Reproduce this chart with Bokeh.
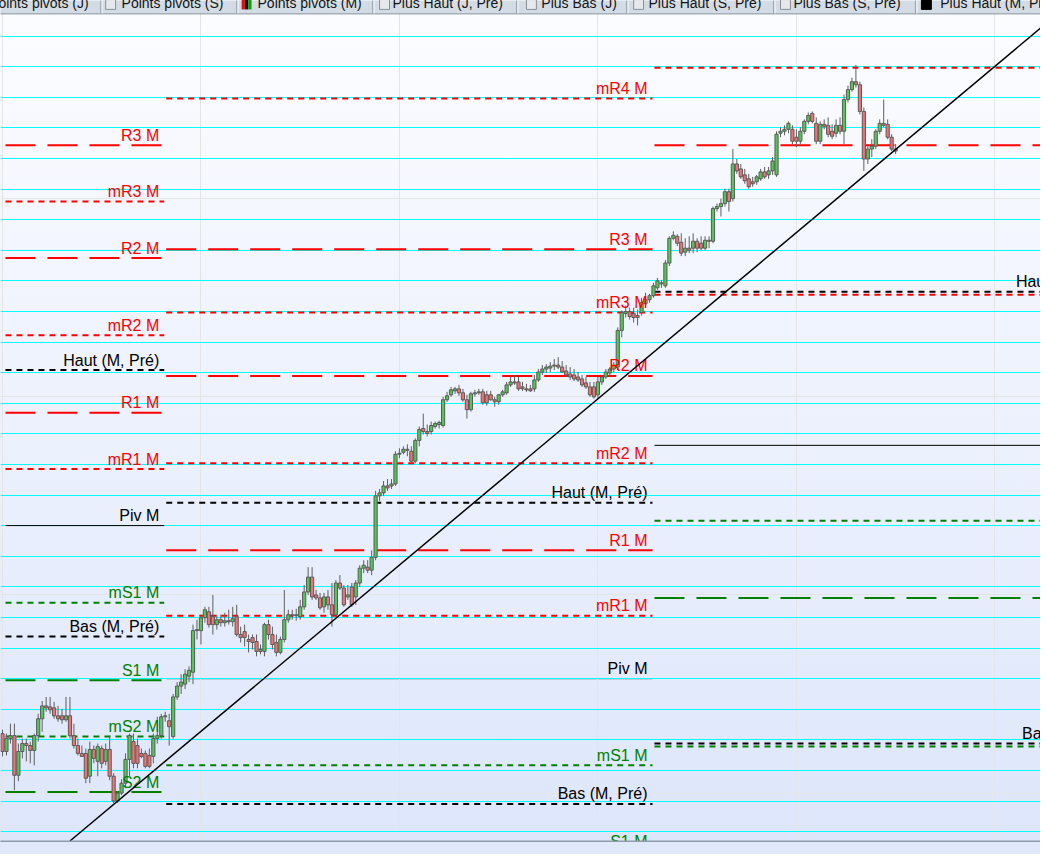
import numpy as np
from bokeh.plotting import figure
from bokeh.models import Range1d, Grid, FixedTicker, ColumnDataSource
from bokeh.core.properties import value
from bokeh.embed import file_html
from bokeh.resources import INLINE

# ---------------- data (price in points, bar index on x) ----------------
opens = [260,242,255,258,218,242,250,248,243,258, 275,288,287,286,278,278,274,278,258,248,
         240,240,217,244,232,245,232,244,217,192, 200,210,234,252,248,240,240,238,237,255,
         258,277,273,257,297,308,310,318,322,364, 364,377,383,378,370,375,372,374,373,378,
         360,363,355,357,353,343,343,370,360,352, 342,355,375,380,379,378,388,403,418,400,
         397,388,398,390,380,412,407,398,408,398, 412,427,428,425,438,500,503,510,510,512,
         542,544,547,545,535,556,568,565,565,570, 572,571,597,602,606,608,604,597,587,603,
         604,605,602,602,597,595,602,604,612,615, 615,610,608,608,608,617,625,628,629,631,
         632,630,626,623,622,620,618,614,610,610, 602,615,620,624,628,630,667,684,686,684,
         682,685,694,698,702,710,714,712,735,760, 762,756,746,750,750,757,755,750,758,757,
         790,792,795,807,800,835,830,824,820,817, 817,820,827,824,828,824,866,868,870,870,
         862,858,868,878,886,876,858,875,874,868, 866,874,868,900,910,918,915,888,840,850,
         853,868,876,875,862,850]
highs = [264,260,270,270,250,255,255,252,260,280, 293,297,297,292,288,285,297,297,270,255,
         248,245,252,248,250,248,250,258,220,202, 214,240,260,260,255,245,243,245,260,277,
         280,282,280,300,312,320,325,328,370,375, 380,388,388,400,380,380,382,385,388,390,
         368,370,360,360,360,350,372,375,368,360, 358,405,385,385,386,395,410,428,428,405,
         402,402,405,412,415,420,410,410,412,415, 430,435,435,445,505,507,515,517,517,545,
         548,550,552,550,558,570,583,572,575,575, 576,600,605,610,610,612,608,602,605,607,
         608,608,606,606,600,603,607,615,620,622, 620,615,613,612,622,628,632,633,635,638,
         640,636,632,630,628,625,622,620,615,615, 620,622,628,630,635,670,687,692,690,690,
         688,700,705,704,715,720,718,738,762,767, 764,765,760,762,765,760,762,762,762,792,
         795,800,810,810,850,840,835,830,825,822, 824,830,832,832,842,868,872,874,878,874,
         870,872,880,887,888,882,878,880,882,875, 880,882,905,914,922,935,918,892,855,860,
         870,880,900,880,865,855]
lows = [237,238,250,203,212,235,232,230,228,252, 262,282,280,275,272,270,272,255,245,238,
        237,210,210,230,217,225,228,213,190,190, 198,205,217,225,225,235,225,225,230,250,
        255,272,248,255,294,300,305,312,310,355, 350,372,367,360,365,368,368,370,368,358,
        352,348,342,345,338,340,338,355,345,338, 340,352,372,375,374,375,385,400,395,395,
        385,382,385,368,378,405,388,395,388,390, 408,422,422,420,435,495,500,505,507,510,
        538,542,540,532,533,550,562,560,562,568, 568,569,595,600,603,601,595,578,585,600,
        602,592,591,596,590,592,600,602,610,612, 606,606,605,605,605,615,622,624,625,627,
        628,624,620,617,616,615,610,608,600,598, 598,612,618,620,625,627,660,680,678,675,
        672,682,690,695,700,708,710,710,732,758, 752,742,742,745,745,746,748,748,750,755,
        787,782,792,787,797,825,820,815,810,812, 814,818,820,820,824,822,862,864,866,855,
        852,855,865,875,876,855,855,870,862,860, 862,865,855,897,908,912,885,828,835,842,
        850,865,872,860,848,845]
closes = [242,255,258,218,242,250,248,243,258,275, 288,286,284,278,275,274,278,258,248,240,
          237,215,244,235,247,230,244,217,192,200, 210,234,258,230,230,237,227,227,255,258,
          277,278,267,297,308,312,320,324,364,365, 377,385,370,370,375,372,374,373,376,360,
          357,357,353,352,343,345,370,360,350,342, 355,375,380,379,380,388,403,418,398,397,
          387,398,390,380,412,407,390,400,390,412, 427,430,425,438,500,503,510,508,512,542,
          543,547,546,535,556,567,565,563,571,573, 574,597,601,607,608,604,597,587,603,604,
          605,594,594,597,595,602,605,612,615,614, 608,608,607,606,617,625,628,630,631,632,
          630,625,622,620,618,617,612,610,602,600, 615,620,625,628,632,667,685,686,681,680,
          680,695,698,702,712,717,715,735,760,763, 755,745,750,748,757,750,750,758,757,790,
          792,795,807,797,835,828,822,818,812,815, 822,827,822,828,838,865,868,870,876,858,
          858,868,878,884,878,858,875,873,865,863, 874,868,900,910,918,915,888,840,850,853,
          868,876,874,862,850,848]

# monthly sections (bar index where each month's pivot set starts / ends)
month_start = [0.75, 41.25, 164.25]
month_end = [40.75, 163.75, 280.75]

level_month = [0] * 13 + [1] * 12 + [2] * 9
level_name = ["R3", "mR3", "R2", "mR2", "Haut", "R1", "mR1", "Piv", "mS1", "Bas", "S1", "mS2", "S2",
              "mR4", "R3", "mR3", "R2", "mR2", "Haut", "R1", "mR1", "Piv", "mS1", "Bas", "S1",
              "mR2", "R1", "Haut", "mR1", "Piv", "mS1", "S1", "Bas", "mS2"]
level_value = [854, 797, 740, 662, 627, 584, 527, 470, 392, 358, 314, 257, 201,
               901, 749, 685, 621, 533, 493, 445, 379, 315.5, 228, 189, 141,
               932, 854, 706, 703, 551, 475, 397, 250, 247]
# the current-month pivot line sits under a grid line in the reference
hidden_lines = {(1, "Piv")}

trend_bar = [17, 262]
trend_price = [151.6, 973.8]

grid_top = 964.0
grid_step = 30.88
grid_count = 27

tab_labels = ["Points pivots (J)", "Points pivots (S)", "Points pivots (M)", "Plus Haut (J, Pré)",
              "Plus Bas (J)", "Plus Haut (S, Pré)", "Plus Bas (S, Pré)", "Plus Haut (M, Pré)"]

# ---------------- figure ----------------
p = figure(width=1040, height=854, x_range=Range1d(-0.5, 261.5), y_range=Range1d(138, 1000),
           output_backend="svg", toolbar_location=None, x_axis_location=None, y_axis_location=None,
           min_border=0, outline_line_color=None, background_fill_alpha=0, border_fill_alpha=0,
           styles={"background": "linear-gradient(to bottom, #fdfeff 0%, #fbfcff 3%, #dde6fb 98%, #e0e8fb 100%)"})
p.extra_x_ranges = {"px": Range1d(0, 1048)}
p.extra_y_ranges = {"px": Range1d(862, 0)}

# pivot lines
def level_style(name):
    if name in ("Haut", "Bas"):
        return "#000000", "6 5", 2
    if name == "Piv":
        return "#000000", "solid", 1
    col = "#ff0000" if "R" in name else "#008000"
    if name.startswith("m"):
        return col, "6 5", 2
    return col, "30 12", 2

lab_x, lab_y, lab_t, lab_c = [], [], [], []
for m, name, v in zip(level_month, level_name, level_value):
    col, dash, lw = level_style(name)
    lvl = "image" if (m, name) in hidden_lines else "glyph"
    p.segment(x0=[month_start[m]], y0=[v], x1=[month_end[m]], y1=[v], line_color=col,
              line_width=lw, line_dash=dash, level=lvl)
    lab_x.append(month_end[m])
    lab_y.append(v)
    lab_t.append(name + " (M, Pré)" if name in ("Haut", "Bas") else name + " M")
    lab_c.append(col)

# grid
ticks = [grid_top - grid_step * k for k in range(grid_count)]
g = Grid(dimension=1, ticker=FixedTicker(ticks=ticks), grid_line_color="#00ffff", grid_line_width=1)
p.add_layout(g)

# candles
idx = list(range(len(closes)))
src = ColumnDataSource(dict(
    x=idx, o=opens, h=highs, l=lows, c=closes,
    top=[max(a, b) for a, b in zip(opens, closes)],
    bot=[min(a, b) for a, b in zip(opens, closes)],
    col=["#52c852" if c >= o else "#f07272" for o, c in zip(opens, closes)],
))
p.segment(x0="x", y0="l", x1="x", y1="h", source=src, line_color="#5e5e5e", line_width=1)
p.vbar(x="x", top="top", bottom="bot", width=0.8, source=src, fill_color="col",
       line_color="#5a5a5a", line_width=1)

# labels
lsrc = ColumnDataSource(dict(x=lab_x, y=lab_y, t=lab_t, c=lab_c))
p.text(x="x", y="y", text="t", source=lsrc, text_color="c", text_align="right",
       text_baseline="middle", x_offset=-5, y_offset=-10,
       text_font=value("Liberation Sans"), text_font_size="16px")

# trend line
p.line(trend_bar, trend_price, line_color="#000000", line_width=1.5)

# bottom strip
p.quad(left=[0], right=[1048], top=[848.5], bottom=[862], x_range_name="px", y_range_name="px",
       fill_color="#e0e8fb", line_color=None, level="overlay")
p.segment(x0=[0], y0=[848.5], x1=[1048], y1=[848.5], x_range_name="px", y_range_name="px",
          line_color="#8e9cab", line_width=1.5, level="overlay")

# tab bar
p.quad(left=[0], right=[1048], top=[0], bottom=[13], x_range_name="px", y_range_name="px",
       fill_color="#d3dce5", line_color=None, level="overlay")
p.segment(x0=[0], y0=[13.5], x1=[1048], y1=[13.5], x_range_name="px", y_range_name="px",
          line_color="#7f8e9c", line_width=1, level="overlay")
sep_x = [101, 238, 375, 520, 631, 779, 922]
p.segment(x0=sep_x, y0=[0] * 7, x1=sep_x, y1=[13] * 7, x_range_name="px", y_range_name="px",
          line_color="#96a3af", line_width=1, level="overlay")
p.segment(x0=[s + 1.5 for s in sep_x], y0=[0] * 7, x1=[s + 1.5 for s in sep_x], y1=[13] * 7,
          x_range_name="px", y_range_name="px", line_color="#f4f7fa", line_width=1, level="overlay")
tab_x = [-11.5, 122, 259, 395, 545, 653, 799, 947]
icon_x = [-27, 106, 243, 382, 530, 638, 786, 928]
plain = (0, 1, 3, 4, 5, 6)
p.quad(left=[icon_x[i] for i in plain], right=[icon_x[i] + 10 for i in plain],
       top=[-1] * 6, bottom=[9] * 6, x_range_name="px", y_range_name="px",
       fill_color="#e6e9ec", line_color="#8a8f95", line_width=1, level="overlay")
p.quad(left=[icon_x[2], icon_x[2] + 3.3, icon_x[2] + 6.6], right=[icon_x[2] + 3.3, icon_x[2] + 6.6, icon_x[2] + 10],
       top=[-1] * 3, bottom=[9] * 3, x_range_name="px", y_range_name="px",
       fill_color=["#e01010", "#101010", "#10a010"], line_color=None, level="overlay")
p.quad(left=[icon_x[7]], right=[icon_x[7] + 10], top=[-1], bottom=[9], x_range_name="px",
       y_range_name="px", fill_color="#000000", line_color="#000000", level="overlay")
p.text(x=tab_x, y=[2.5] * 8, text=tab_labels, x_range_name="px", y_range_name="px",
       text_color="#141414", text_baseline="middle", text_align="left",
       text_font=value("Liberation Sans"), text_font_size="14px", level="overlay")

open("out.html", "w").write(file_html(p, INLINE))
